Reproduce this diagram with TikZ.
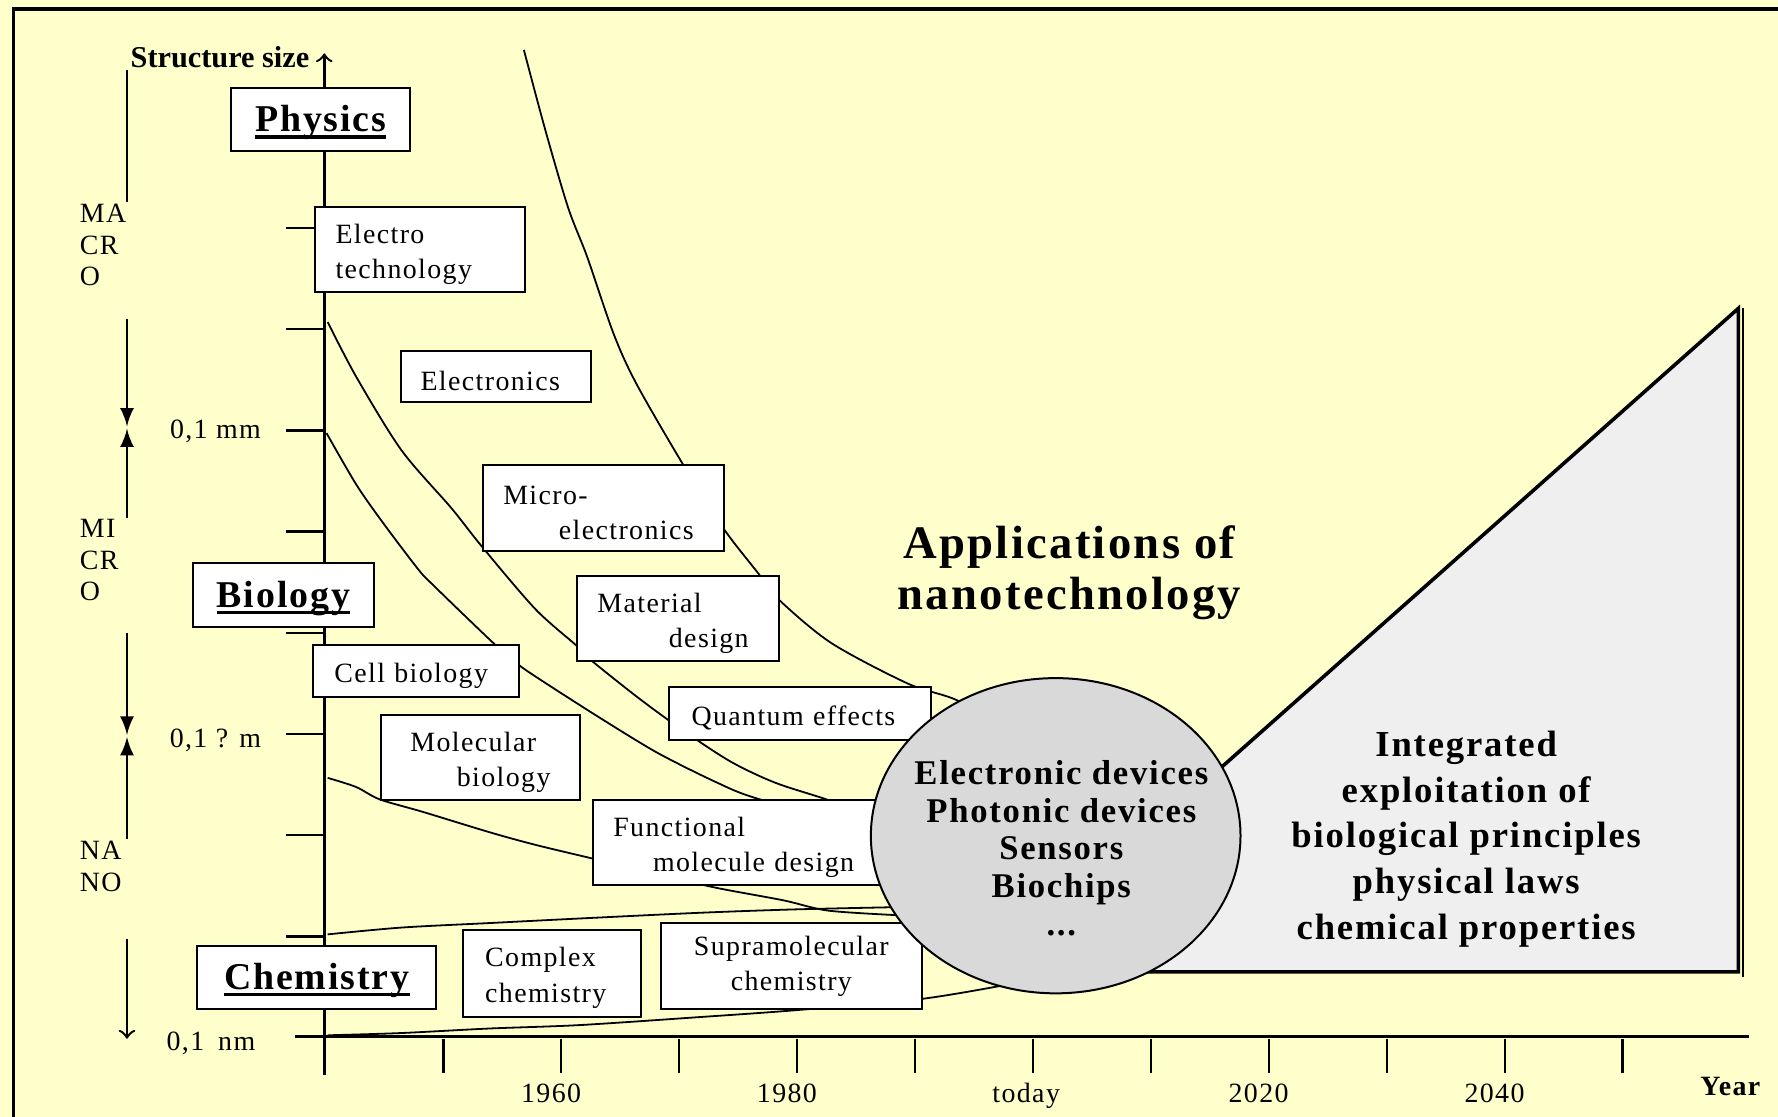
\documentclass[tikz,border=0pt]{standalone}
\usepackage{fontspec}
\setmainfont{Liberation Serif}
\newfontfamily\spaced{Liberation Serif}[LetterSpace=5]
\usetikzlibrary{arrows,shapes.geometric}
\definecolor{paper}{HTML}{FFFFCC}
\definecolor{blobgray}{HTML}{D9D9D9}
\definecolor{wedgegray}{HTML}{EFEFEF}
\newcommand{\fieldname}[1]{\setbox0\hbox{#1}\rlap{\rule[-1.7pt]{\wd0}{0.9pt}}\box0}
\tikzset{
	box/.style={draw,fill=white,line width=.5pt,anchor=north west,align=left,inner ysep=.3mm,
		execute at begin node={\rule{0pt}{2.5mm}},font=\spaced\fontsize{7}{8.8}\selectfont},
	head/.style={draw,fill=white,line width=.5pt,anchor=north west,align=center,inner ysep=.3mm,
		execute at begin node={\rule{0pt}{2.9mm}},font=\spaced\bfseries\fontsize{9.5}{11}\selectfont},
	small/.style={font=\spaced\fontsize{7}{8.8}\selectfont},
	zone/.style={anchor=west,align=left,font=\spaced\fontsize{7}{7.9}\selectfont},
	curve/.style={line width=.45pt},
	axis/.style={line width=.6pt},
}

\begin{document}
\begin{tikzpicture}[x=0.1mm,y=-0.1mm]
	\useasboundingbox (0,0) rectangle (1568,985);
	\clip (0,0) rectangle (1568,985);
	\fill[paper] (0,0) rectangle (1568,985);
	\draw[line width=.8pt] (12,1100) -- (12,8) -- (1700,8);

	% wedge, behind the blob
	\draw[fill=wedgegray,line width=.9pt] (874,857) -- (1533,272) -- (1533,857) -- cycle;
	\draw[line width=.6pt] (1537,272) -- (1537,862);

	% development curves
	\draw[curve] plot[smooth] coordinates {(462,44) (481,115) (501,183) (518,227) (541,294) (561,338) (602,409) (638,466) (669,506) (686,528) (733,567) (801,603) (845,618) (900,650)};
	\draw[curve] plot[smooth] coordinates {(289,284) (314,332) (354,397) (398,448) (425,482) (472,537) (508,569) (521,582) (565,617) (605,646) (645,672) (683,690) (726,704) (790,725)};
	\draw[curve] plot[smooth] coordinates {(288,382) (314,427) (337,460) (368,501) (381,515) (435,567) (457,586) (479,601) (529,633) (580,664) (632,690) (667,704) (760,730)};
	\draw[curve] plot[smooth] coordinates {(289,686) (314,694) (335,705) (373,716) (432,734) (472,745) (522,757) (580,771) (632,783) (691,794) (730,803) (790,807)};
	\draw[curve] plot[smooth] coordinates {(289,824) (354,818) (432,814) (511,810) (616,805) (700,802) (790,800)};
	\draw[curve] plot[smooth] coordinates {(289,913) (354,911) (432,907) (511,904) (616,897) (700,891) (812,881) (890,868)};

	% axes
	\draw[axis,->] (286,948) -- (286,47);
	\draw[axis] (260,914) -- (1542,914);
	\foreach \x in {391,495,...,1431}
		\draw[axis] (\x,916) -- (\x,946);
	\foreach \k in {0,...,7}
		\draw[axis] (252,201+89.25*\k) -- (286,201+89.25*\k);
	\draw (194,50) node[font=\bfseries\fontsize{7.6}{9}\selectfont] (size) {Structure size};
	\draw (1526,966) node[anchor=base,font=\spaced\bfseries\fontsize{7}{9}\selectfont] (year) {Year};
	\draw (486,972) node[small,anchor=base] (t1960) {1960};
	\draw (694,972) node[small,anchor=base] (t1980) {1980};
	\draw (905,972) node[small,anchor=base] (today) {today};
	\draw (1110,972) node[small,anchor=base] (t2020) {2020};
	\draw (1318,972) node[small,anchor=base] (t2040) {2040};
	\draw (190,387) node[small,anchor=base] (mm) {0,1 mm};
	\draw (190,659) node[small,anchor=base] (um) {0,1 ? m};
	\draw (186,926) node[small,anchor=base] (nm) {0,1\enspace nm};

	% size ranges
	\draw[axis] (112,62) -- (112,178);
	\draw[axis,-latex] (112,281) -- (112,376);
	\draw[axis,-latex] (112,457) -- (112,378);
	\draw[axis,-latex] (112,558) -- (112,648);
	\draw[axis,-latex] (112,740) -- (112,650);
	\draw[axis,->] (112,828) -- (112,916);
	\draw (58,216) node[zone] (macro) {MA\\CR\\O};
	\draw (58,494) node[zone] (micro) {MI\\CR\\O};
	\draw (58,764) node[zone] (nano) {NA\\NO};

	% fields
	\draw (203,77) node[head,minimum width=15.8mm,minimum height=5.5mm] (physics) {\fieldname{Physics}};
	\draw (169,496) node[head,minimum width=16mm,minimum height=5.6mm] (biology) {\fieldname{Biology}};
	\draw (173,833) node[head,minimum width=21.1mm,minimum height=5.6mm] (chemistry) {\fieldname{Chemistry}};
	\draw (277,182) node[box,minimum width=18.5mm,minimum height=7.5mm,inner xsep=1.8mm,text width=14.9mm] (etech) {Electro\\technology};
	\draw (353,309) node[box,minimum width=16.7mm,minimum height=4.5mm,inner xsep=1.7mm,text width=13.3mm] (etronics) {Electronics};
	\draw (425,409) node[box,minimum width=21.3mm,minimum height=7.6mm,inner xsep=1.8mm,text width=17.7mm] (microel) {Micro-\\\hspace*{4.9mm}electronics};
	\draw (508,507) node[box,minimum width=17.8mm,minimum height=7.5mm,inner xsep=1.8mm,text width=14.2mm] (material) {Material\\\hspace*{6.3mm}design};
	\draw (275,568) node[box,minimum width=18.2mm,minimum height=4.6mm,inner xsep=1.9mm,text width=14.4mm] (cell) {Cell biology};
	\draw (589,605) node[box,minimum width=23.1mm,minimum height=4.7mm,inner xsep=2mm,text width=19.1mm] (quantum) {Quantum effects};
	\draw (335,630) node[box,minimum width=17.6mm,minimum height=7.5mm,inner xsep=2.6mm,text width=12.4mm] (molbio) {Molecular\\\hspace*{4.1mm}\mbox{biology}};
	\draw (522,705) node[box,minimum width=25.4mm,minimum height=7.5mm,inner xsep=1.8mm,text width=21.8mm] (funcmol) {Functional\\\hspace*{3.5mm}molecule design};
	\draw (407,819) node[box,minimum width=15.7mm,minimum height=7.7mm,inner xsep=2mm,text width=11.7mm] (complex) {Complex\\chemistry};
	\draw (582,813) node[box,align=center,minimum width=23mm,minimum height=7.6mm] (supra) {Supramolecular\\chemistry};

	% applications
	\draw (931,737) node[ellipse,draw,fill=blobgray,line width=.5pt,minimum width=32.6mm,minimum height=27.8mm,inner sep=0pt] (blob) {};
	\draw (936,748) node[align=center,font=\spaced\bfseries\fontsize{8.7}{9.5}\selectfont] (devices) {Electronic devices\\Photonic devices\\Sensors\\Biochips\\...};
	\draw (1293,740) node[align=center,font=\spaced\bfseries\fontsize{9.2}{11.5}\selectfont] (laws) {Integrated\\exploitation of\\biological principles\\physical laws\\chemical properties};
	\draw (943,505) node[align=center,font=\spaced\bfseries\fontsize{11.7}{12.8}\selectfont] (title) {Applications of\\nanotechnology};
\end{tikzpicture}
\end{document}
